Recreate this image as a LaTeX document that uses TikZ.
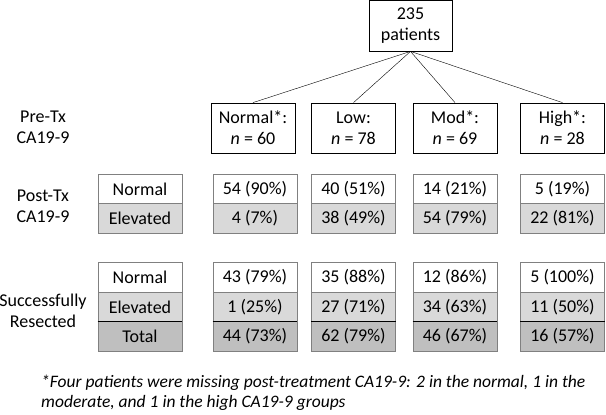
\documentclass[tikz,border=0pt]{standalone}
\usepackage{fontspec}
\setmainfont{Carlito}
\definecolor{cellline}{HTML}{808080}
\definecolor{elevfill}{HTML}{D9D9D9}
\definecolor{totfill}{HTML}{BFBFBF}
\begin{document}
\begin{tikzpicture}[x=1pt, y=-1pt,
  every node/.style={font=\fontsize{18}{21}\selectfont},
  box/.style={draw, rectangle, line width=0.8pt, align=center, inner sep=0pt, minimum width=84pt, minimum height=50pt},
  cell/.style={draw=cellline, rectangle, line width=0.8pt, inner sep=0pt, minimum width=84pt, minimum height=29.3pt},
  elev/.style={cell, fill=elevfill},
  tot/.style={cell, fill=totfill}]
\useasboundingbox (0,0) rectangle (606,415);

\node[box, minimum width=83pt, minimum height=51pt] (pat) at (410.5,25.5) {235\\patients};

\node[align=center] (prelab) at (43,127) {Pre-Tx\\CA19-9};
\node[box] (prenorm) at (253,128) {Normal*:\\\textit{n} = 60};
\node[box] (prelow) at (353.5,128) {Low:\\\textit{n} = 78};
\node[box] (premod) at (455,128) {Mod*:\\\textit{n} = 69};
\node[box] (prehigh) at (562.5,128) {High*:\\\textit{n} = 28};

\draw (pat.south) -- (prenorm.north);
\draw (pat.south) -- (prelow.north);
\draw (pat.south) -- (premod.north);
\draw (pat.south) -- (prehigh.north);

\node[align=center] (postlab) at (43,206) {Post-Tx\\CA19-9};
\node[cell] (pn0) at (140,189.5) {Normal};
\node[elev] (pe0) at (140,218.5) {Elevated};
\node[cell] (pn1) at (255,189.5) {54 (90\%)};
\node[elev] (pe1) at (255,218.5) {4 (7\%)};
\node[cell] (pn2) at (353.5,189.5) {40 (51\%)};
\node[elev] (pe2) at (353.5,218.5) {38 (49\%)};
\node[cell] (pn3) at (455,189.5) {14 (21\%)};
\node[elev] (pe3) at (455,218.5) {54 (79\%)};
\node[cell] (pn4) at (562.5,189.5) {5 (19\%)};
\node[elev] (pe4) at (562.5,218.5) {22 (81\%)};

\node[align=center] (reslab) at (43,311) {Successfully\\Resected};
\node[cell] (rn0) at (140,277.5) {Normal};
\node[elev] (re0) at (140,307) {Elevated};
\node[tot] (rt0) at (140,336.5) {Total};
\node[cell] (rn1) at (255,277.5) {43 (79\%)};
\node[elev] (re1) at (255,307) {1 (25\%)};
\node[tot] (rt1) at (255,336.5) {44 (73\%)};
\node[cell] (rn2) at (353.5,277.5) {35 (88\%)};
\node[elev] (re2) at (353.5,307) {27 (71\%)};
\node[tot] (rt2) at (353.5,336.5) {62 (79\%)};
\node[cell] (rn3) at (455,277.5) {12 (86\%)};
\node[elev] (re3) at (455,307) {34 (63\%)};
\node[tot] (rt3) at (455,336.5) {46 (67\%)};
\node[cell] (rn4) at (562.5,277.5) {5 (100\%)};
\node[elev] (re4) at (562.5,307) {11 (50\%)};
\node[tot] (rt4) at (562.5,336.5) {16 (57\%)};

% darker line above the totals
\draw[line width=1.3pt] (rt0.north west) -- (rt0.north east);
\draw[line width=1.3pt] (rt1.north west) -- (rt1.north east);
\draw[line width=1.3pt] (rt2.north west) -- (rt2.north east);
\draw[line width=1.3pt] (rt3.north west) -- (rt3.north east);
\draw[line width=1.3pt] (rt4.north west) -- (rt4.north east);

\node[anchor=west, align=left, inner sep=0pt, font=\fontsize{17.5}{20}\selectfont\itshape] (note) at (41,393)
  {*Four patients were missing post-treatment CA19-9: 2 in the normal, 1 in the\\moderate, and 1 in the high CA19-9 groups};
\end{tikzpicture}
\end{document}
